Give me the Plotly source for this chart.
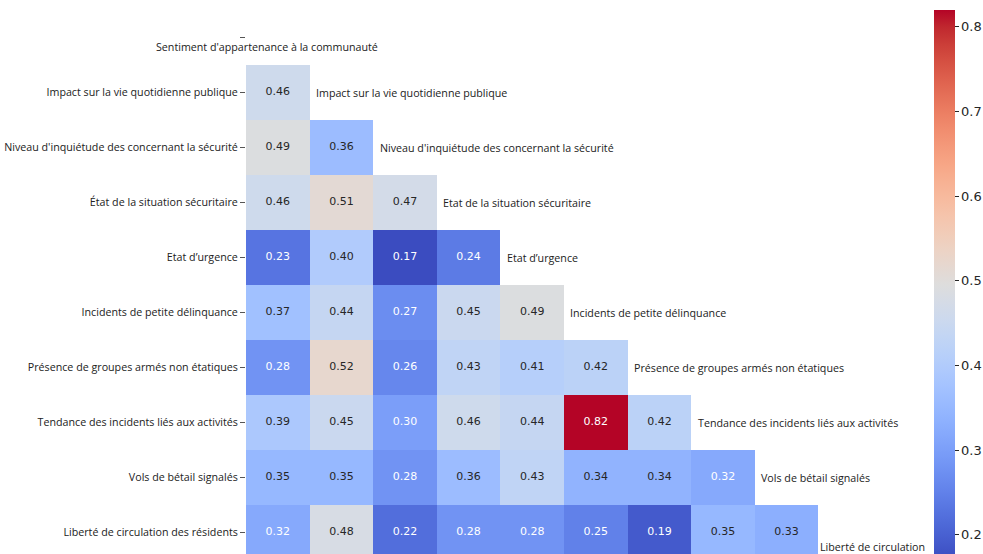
import numpy as np
import plotly.graph_objects as go

# Variables (row order of the correlation matrix)
row_labels = [
    "",
    "Impact sur la vie quotidienne publique",
    "Niveau d'inquiétude des concernant la sécurité",
    "État de la situation sécuritaire",
    "Etat d’urgence",
    "Incidents de petite délinquance",
    "Présence de groupes armés non étatiques",
    "Tendance des incidents liés aux activités",
    "Vols de bétail signalés",
    "Liberté de circulation des résidents",
]
diag_labels = [
    "Sentiment d'appartenance à la communauté",
    "Impact sur la vie quotidienne publique",
    "Niveau d'inquiétude des concernant la sécurité",
    "Etat de la situation sécuritaire",
    "Etat d’urgence",
    "Incidents de petite délinquance",
    "Présence de groupes armés non étatiques",
    "Tendance des incidents liés aux activités",
    "Vols de bétail signalés",
    "Liberté de circulation<br>des résidents",
]

# Lower-triangle correlations (row i, columns 0..i-1)
r_impact = [0.46]
r_niveau = [0.49, 0.36]
r_etat_situation = [0.46, 0.51, 0.47]
r_urgence = [0.23, 0.40, 0.17, 0.24]
r_incidents = [0.37, 0.44, 0.27, 0.45, 0.49]
r_presence = [0.28, 0.52, 0.26, 0.43, 0.41, 0.42]
r_tendance = [0.39, 0.45, 0.30, 0.46, 0.44, 0.82, 0.42]
r_vols = [0.35, 0.35, 0.28, 0.36, 0.43, 0.34, 0.34, 0.32]
r_liberte = [0.32, 0.48, 0.22, 0.28, 0.28, 0.25, 0.19, 0.35, 0.33]

lower_rows = [[], r_impact, r_niveau, r_etat_situation, r_urgence, r_incidents,
              r_presence, r_tendance, r_vols, r_liberte]

n = len(lower_rows)
z = np.full((n, n), np.nan)
for i, vals in enumerate(lower_rows):
    for j, v in enumerate(vals):
        z[i, j] = v

zmin = np.nanmin(z)
zmax = np.nanmax(z)

# matplotlib "coolwarm"
cw_rgb = [
    (59, 76, 192), (68, 90, 204), (77, 104, 215), (87, 117, 225), (98, 130, 234),
    (108, 142, 241), (119, 154, 247), (130, 165, 251), (141, 176, 254), (152, 185, 255),
    (163, 194, 255), (174, 201, 253), (184, 208, 249), (194, 213, 244), (204, 217, 238),
    (213, 219, 230), (221, 221, 221), (229, 216, 209), (236, 211, 197), (241, 204, 184),
    (245, 196, 172), (247, 187, 159), (247, 177, 147), (247, 166, 134), (244, 154, 123),
    (241, 141, 111), (236, 127, 99), (229, 112, 88), (222, 96, 77), (213, 80, 66),
    (203, 62, 56), (192, 40, 47), (180, 4, 38),
]
cw_pos = np.linspace(0, 1, len(cw_rgb))
colorscale = [[float(p), "rgb(%d,%d,%d)" % c] for p, c in zip(cw_pos, cw_rgb)]
cw_arr = np.array(cw_rgb, dtype=float)


def cmap(v):
    t = (v - zmin) / (zmax - zmin)
    return [np.interp(t, cw_pos, cw_arr[:, k]) for k in range(3)]


def luminance(rgb):
    lin = []
    for c in rgb:
        c = c / 255.0
        lin.append(c / 12.92 if c <= 0.03928 else ((c + 0.055) / 1.055) ** 2.4)
    return 0.2126 * lin[0] + 0.7152 * lin[1] + 0.0722 * lin[2]


# value labels, dark on light cells and white on dark cells
tx, ty, tt, tc = [], [], [], []
for i in range(n):
    for j in range(n):
        if not np.isnan(z[i, j]):
            tx.append(j)
            ty.append(i)
            tt.append("%.2f" % z[i, j])
            tc.append("#262626" if luminance(cmap(z[i, j])) > 0.408 else "white")

fig = go.Figure()
fig.add_trace(go.Heatmap(
    z=z, x=list(range(n)), y=list(range(n)),
    colorscale=colorscale, zmin=zmin, zmax=zmax,
    hoverongaps=False,
    colorbar=dict(
        x=1.0818, xanchor="left", xpad=0,
        y=1 - 10 / 554, yanchor="top", ypad=0,
        lenmode="pixels", len=550, thickness=21,
        outlinewidth=0,
        tickvals=[0.2, 0.3, 0.4, 0.5, 0.6, 0.7, 0.8],
        ticktext=["0.2", "0.3", "0.4", "0.5", "0.6", "0.7", "0.8"],
        ticks="outside", ticklen=4, tickcolor="#262626",
        tickfont=dict(family="DejaVu Sans", size=13, color="#262626"),
    ),
))
fig.add_trace(go.Scatter(
    x=tx, y=ty, text=tt, mode="text",
    textfont=dict(family="DejaVu Sans", size=11, color=tc),
    hoverinfo="skip", showlegend=False,
))

# variable names along the diagonal
label_font = dict(family="Open Sans", size=10.7, color="#222222")
for i, lab in enumerate(diag_labels):
    if i == 0:
        fig.add_annotation(x=-0.17, y=0.17, text=lab, showarrow=False,
                           xanchor="center", yanchor="middle", font=label_font)
    elif i == n - 1:
        fig.add_annotation(x=i - 0.5 + 0.0, y=i + 0.1, text=lab, showarrow=False,
                           xanchor="left", yanchor="top", align="left", font=label_font)
    else:
        fig.add_annotation(x=i - 0.5 + 0.07, y=i, text=lab, showarrow=False,
                           xanchor="left", yanchor="middle", font=label_font)

fig.update_layout(
    width=983, height=554,
    margin=dict(l=246, r=101, t=0, b=0),
    plot_bgcolor="white", paper_bgcolor="white",
    xaxis=dict(range=[-0.5, 9.5], showticklabels=False, showgrid=False,
               zeroline=False, ticks=""),
    yaxis=dict(range=[9.3909, -0.6818], tickvals=list(range(n)), ticktext=row_labels,
               showgrid=False, zeroline=False, ticks="outside", ticklen=5,
               tickcolor="#555555", tickwidth=1,
               tickfont=dict(family="Open Sans", size=10.7, color="#222222")),
    showlegend=False,
)

fig.write_html("out.html")
